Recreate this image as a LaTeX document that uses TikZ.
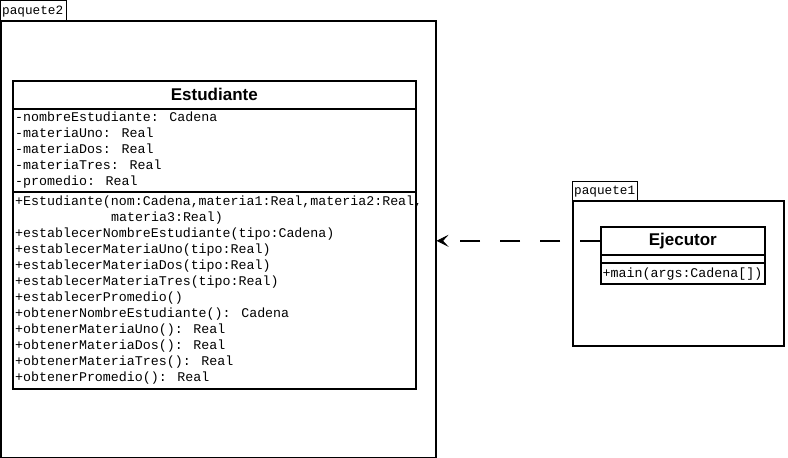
\documentclass[tikz,border=0pt]{standalone}
\usepackage{fontspec}
\setmainfont{Liberation Sans}
\newfontfamily\monof{Liberation Mono}
\usetikzlibrary{arrows.meta}
\tikzset{
  frame/.style={draw, line width=1.6pt, inner sep=0pt, anchor=north west, fill=white},
  tabbox/.style={draw, line width=1pt, inner sep=0pt, anchor=north west, fill=white},
  mono/.style={inner sep=0pt, anchor=base west, font=\monof\fontsize{13.3}{16}\selectfont},
  tablabel/.style={inner sep=0pt, anchor=base west, font=\monof\fontsize{12.7}{15}\selectfont},
  title/.style={inner sep=0pt, font=\bfseries\fontsize{17}{20}\selectfont},
  dep/.style={line width=1.6pt, dash pattern=on 20pt off 20pt, -{Stealth[length=12pt,width=12pt,inset=5.5pt,line width=0.8pt]}}
}
\begin{document}
\begin{tikzpicture}[x=1pt,y=-1pt]
\useasboundingbox (0,0) rectangle (788,458);
% paquete2
\node[tabbox, minimum width=66pt, minimum height=20pt] (tab2) at (0,0) {};
\node[tablabel] (tab2t) at (2,14.5) {paquete2};
\node[frame, minimum width=435pt, minimum height=437pt] (pkg2) at (0,20) {};
% Estudiante
\node[frame, minimum width=403pt, minimum height=28pt] (est) at (12,80) {};
\node[frame, minimum width=403pt, minimum height=83pt] (estA) at (12,108) {};
\node[frame, minimum width=403pt, minimum height=197pt] (estM) at (12,191) {};
\node[title] (estT) at (est.center) {Estudiante};
\foreach \t [count=\i from 0] in {{-nombreEstudiante: Cadena},{-materiaUno: Real},{-materiaDos: Real},{-materiaTres: Real},{-promedio: Real}}
  \node[mono] (a\i) at (15,121+16*\i) {\t};
\foreach \t [count=\i from 0] in {{+Estudiante(nom:Cadena,materia1:Real,materia2:Real,},{\hspace*{96pt}materia3:Real)},{+establecerNombreEstudiante(tipo:Cadena)},{+establecerMateriaUno(tipo:Real)},{+establecerMateriaDos(tipo:Real)},{+establecerMateriaTres(tipo:Real)},{+establecerPromedio()},{+obtenerNombreEstudiante(): Cadena},{+obtenerMateriaUno(): Real},{+obtenerMateriaDos(): Real},{+obtenerMateriaTres(): Real},{+obtenerPromedio(): Real}}
  \node[mono] (m\i) at (15,205.5+16*\i) {\t};
% paquete1
\node[tabbox, minimum width=65pt, minimum height=19pt] (tab1) at (572,181) {};
\node[tablabel] (tab1t) at (574,194.5) {paquete1};
\node[frame, minimum width=211pt, minimum height=145pt] (pkg1) at (572,200) {};
% Ejecutor
\node[frame, minimum width=164pt, minimum height=28pt] (eje) at (600,226) {};
\node[frame, minimum width=164pt, minimum height=8pt] (ejeA) at (600,254) {};
\node[frame, minimum width=164pt, minimum height=21pt] (ejeM) at (600,262) {};
\node[title] (ejeT) at (eje.center) {Ejecutor};
\node[mono] (ejem) at (602.5,277) {+main(args:Cadena[])};
% dependency
\draw[dep] (eje.west) -- (eje.west -| pkg2.east);
\end{tikzpicture}
\end{document}
